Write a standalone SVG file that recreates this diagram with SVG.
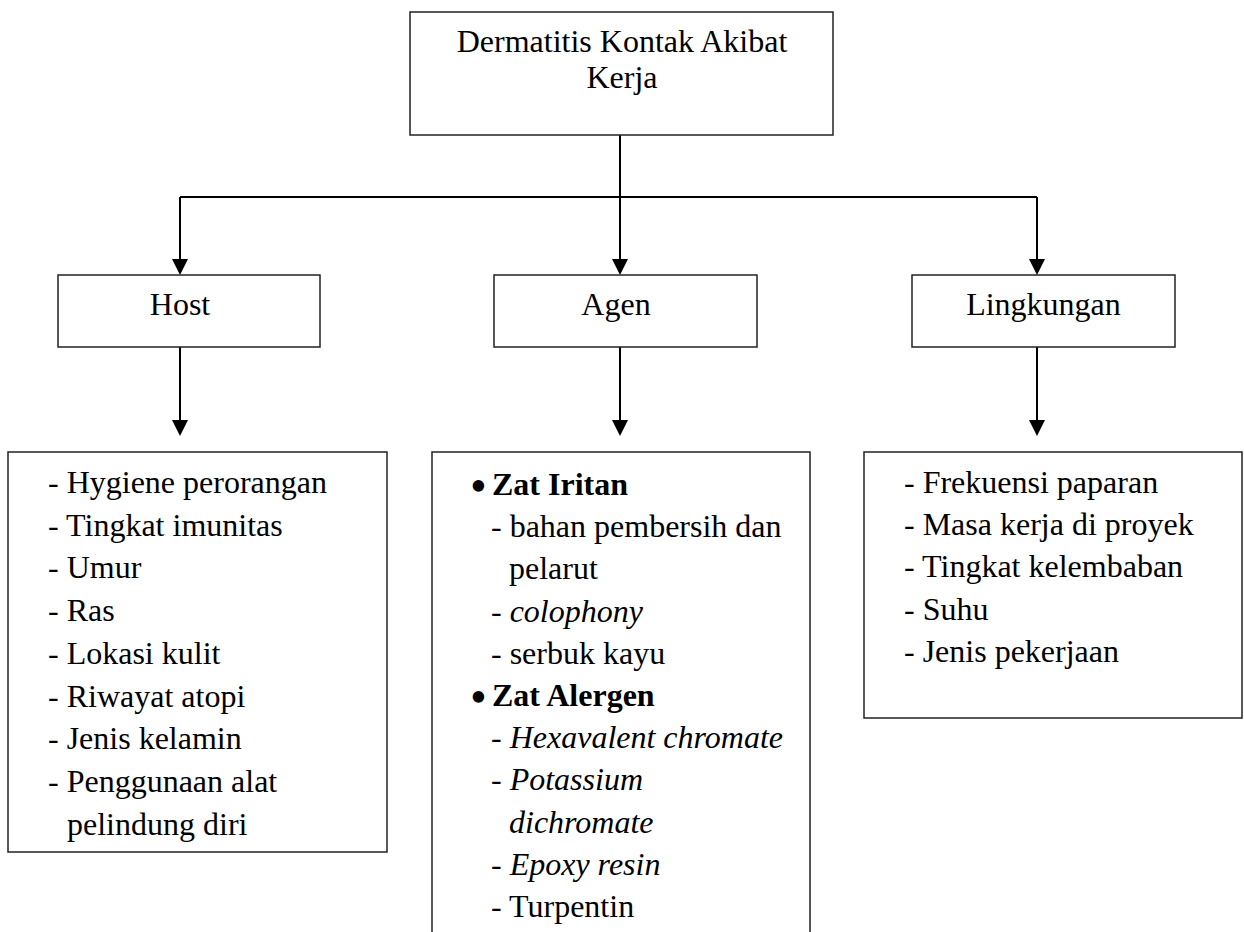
<svg xmlns="http://www.w3.org/2000/svg" width="1244" height="932" viewBox="0 0 1244 932">
<style>
text{font-family:"Liberation Serif","Times New Roman",serif;font-size:32px;fill:#000}
.box{fill:#fff;stroke:#222;stroke-width:1.5}
.con{stroke:#000;stroke-width:2;fill:none}
.ah{fill:#000;stroke:none}
.c{text-anchor:middle}
.i{font-style:italic}
.b{font-weight:bold}
.bul{font-size:48px}
</style>
<defs>
<path id="arrow" class="ah" d="M-8,-16 L8,-16 L0,0 z"/>
</defs>
<rect width="1244" height="932" fill="#fff"/>
<g id="connectors">
<line class="con" x1="620" y1="135" x2="620" y2="262"/>
<line class="con" x1="180" y1="197" x2="1037" y2="197"/>
<line class="con" x1="180" y1="197" x2="180" y2="262"/>
<line class="con" x1="1037" y1="197" x2="1037" y2="262"/>
<line class="con" x1="180" y1="347" x2="180" y2="423"/>
<line class="con" x1="620" y1="347" x2="620" y2="423"/>
<line class="con" x1="1037" y1="347" x2="1037" y2="423"/>
<use href="#arrow" x="180" y="275"/>
<use href="#arrow" x="620" y="275"/>
<use href="#arrow" x="1037" y="275"/>
<use href="#arrow" x="180" y="436"/>
<use href="#arrow" x="620" y="436"/>
<use href="#arrow" x="1037" y="436"/>
</g>
<g id="root">
<rect class="box" x="410" y="12" width="423" height="123"/>
<text class="c" x="622" y="52">Dermatitis Kontak Akibat</text>
<text class="c" x="622" y="88">Kerja</text>
</g>
<g id="host">
<rect class="box" x="58" y="275" width="262" height="72"/>
<text class="c" x="180" y="315">Host</text>
</g>
<g id="agen">
<rect class="box" x="494" y="275" width="263" height="72"/>
<text class="c" x="616" y="315">Agen</text>
</g>
<g id="lingkungan">
<rect class="box" x="912" y="275" width="263" height="72"/>
<text class="c" x="1043.5" y="315">Lingkungan</text>
</g>
<g id="host-list">
<rect class="box" x="8" y="452" width="379" height="400"/>
<text x="48" y="493">- Hygiene perorangan</text>
<text x="48" y="535.7">- Tingkat imunitas</text>
<text x="48" y="578.4">- Umur</text>
<text x="48" y="621.1">- Ras</text>
<text x="48" y="663.8">- Lokasi kulit</text>
<text x="48" y="706.5">- Riwayat atopi</text>
<text x="48" y="749.2">- Jenis kelamin</text>
<text x="48" y="791.9">- Penggunaan alat</text>
<text x="67" y="834.6">pelindung diri</text>
</g>
<g id="agen-list">
<path class="box" d="M432,940 L432,452 L810,452 L810,940"/>
<text class="bul" x="470" y="502">•</text>
<text class="b" x="492" y="495">Zat Iritan</text>
<text x="491" y="537.2">- bahan pembersih dan</text>
<text x="509" y="579.4">pelarut</text>
<text x="491" y="621.6">- <tspan class="i">colophony</tspan></text>
<text x="491" y="663.8">- serbuk kayu</text>
<text class="bul" x="470" y="713">•</text>
<text class="b" x="492" y="706">Zat Alergen</text>
<text x="491" y="748.2">- <tspan class="i">Hexavalent chromate</tspan></text>
<text x="491" y="790.4">- <tspan class="i">Potassium</tspan></text>
<text class="i" x="509" y="832.6">dichromate</text>
<text x="491" y="874.8">- <tspan class="i">Epoxy resin</tspan></text>
<text x="491" y="917">- Turpentin</text>
</g>
<g id="lingkungan-list">
<rect class="box" x="864" y="452" width="378" height="266"/>
<text x="904" y="493">- Frekuensi paparan</text>
<text x="904" y="535.2">- Masa kerja di proyek</text>
<text x="904" y="577.4">- Tingkat kelembaban</text>
<text x="904" y="619.6">- Suhu</text>
<text x="904" y="661.8">- Jenis pekerjaan</text>
</g>
</svg>
